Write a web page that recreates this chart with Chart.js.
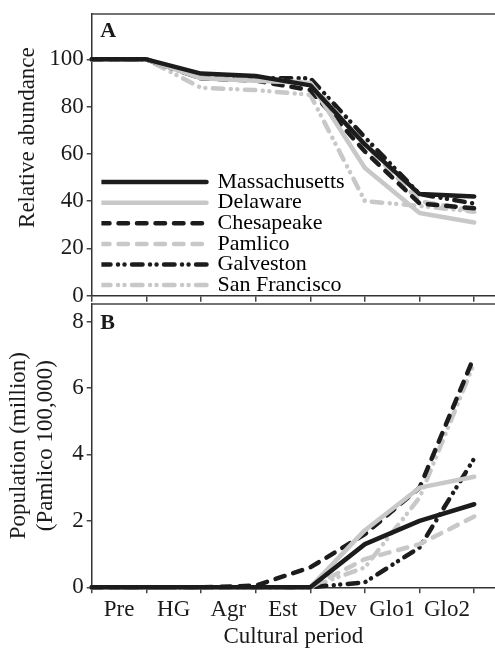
<!DOCTYPE html>
<html>
<head>
<meta charset="utf-8">
<script src="https://cdn.jsdelivr.net/npm/chart.js@4.4.1/dist/chart.umd.min.js"></script>
<style>
    html, body { margin: 0; padding: 0; background: #fff; overflow: hidden; }
    .panel { position: relative; width: 495px; }
    #panelA { height: 312px; }
    #panelB { height: 351px; margin-top: -12px; }
</style>
</head>
<body>
<div class="panel" id="panelA"><canvas id="chartA"></canvas></div>
<div class="panel" id="panelB"><canvas id="chartB"></canvas></div>
<script>
// Cultural periods (labels sit between the tick marks)
const periods = ['Pre', 'HG', 'Agr', 'Est', 'Dev', 'Glo1', 'Glo2'];
// Sample positions along the x axis (tick marks)
const xSteps = [0, 1, 2, 3, 4, 5, 6, 7];

const sites = ['Massachusetts', 'Delaware', 'Chesapeake', 'Pamlico', 'Galveston', 'San Francisco'];

// Panel A: relative abundance
const abundMassachusetts = [100, 100, 94, 93, 89, 64, 43, 42];
const abundDelaware      = [100, 100, 92, 91, 90, 54, 35, 31];
const abundChesapeake    = [100, 100, 92, 91, 87, 61, 39, 37];
const abundPamlico       = [100, 100, 92, 92, 90, 64, 40, 36];
const abundGalveston     = [100, 100, 92, 92, 92, 67, 43, 39];
const abundSanFrancisco  = [100, 100, 88, 87, 85, 40, 38, 35.5];

// Panel B: population (million; Pamlico in 100,000)
const popMassachusetts = [0, 0, 0, 0, 0, 1.3, 2.0, 2.5];
const popDelaware      = [0, 0, 0, 0, 0, 1.72, 3.0, 3.33];
const popChesapeake    = [0, 0, 0, 0.05, 0.6, 1.6, 3.0, 6.95];
const popPamlico       = [0, 0, 0, 0, 0, 0.85, 1.3, 2.13];
const popGalveston     = [0, 0, 0, 0, 0, 0.15, 1.2, 3.88];
const popSanFrancisco  = [0, 0, 0, 0, 0, 0.6, 2.7, 6.75];

const abundanceTicks = [0, 20, 40, 60, 80, 100];
const populationTicks = [0, 2, 4, 6, 8];

const BLACK = '#1c1c1c';
const GREY = '#c8c8c8';
const DOT = 0.01;
const lineStyles = [
    { color: BLACK, dash: [] },
    { color: GREY, dash: [] },
    { color: BLACK, dash: [9.5, 9] },
    { color: GREY, dash: [9.5, 9] },
    { color: BLACK, dash: [10.5, 7.5, DOT, 6.5, DOT, 7.5] },
    { color: GREY, dash: [10.5, 7.5, DOT, 6.5, DOT, 7.5] }
];

Chart.defaults.font.family = '"Liberation Serif", "Times New Roman", serif';
Chart.defaults.font.size = 23;
Chart.defaults.color = '#1a1a1a';

function makeDatasets(seriesList) {
    return seriesList.map((values, i) => ({
        label: sites[i],
        data: values.map((v, j) => ({ x: xSteps[j], y: v })),
        borderColor: lineStyles[i].color,
        backgroundColor: lineStyles[i].color,
        borderWidth: 4.5,
        borderDash: lineStyles[i].dash,
        borderCapStyle: 'round',
        borderJoinStyle: 'round',
        pointRadius: 0,
        tension: 0,
        fill: false,
        clip: false
    }));
}

/**
 * Panel letter and top frame line
 */
const panelFrame = {
    id: 'panelFrame',
    afterDraw(chart, args, opts) {
        const { ctx, chartArea } = chart;
        ctx.save();
        ctx.strokeStyle = '#444';
        ctx.lineWidth = 1.5;
        ctx.beginPath();
        ctx.moveTo(chartArea.left, chartArea.top);
        ctx.lineTo(chartArea.right, chartArea.top);
        ctx.stroke();
        ctx.font = 'bold 22px "Liberation Serif", serif';
        ctx.fillStyle = '#1a1a1a';
        ctx.textBaseline = 'alphabetic';
        ctx.fillText(opts.text, chartArea.left + 8.5, chartArea.top + opts.baseline);
        ctx.restore();
    }
};

/**
 * Nudge the in-area legend to where the original sits
 */
const legendShift = {
    id: 'legendShift',
    afterLayout(chart) {
        if (chart.legend) {
            chart.legend.left += 9.7;
            chart.legend.bottom += 13;
        }
    }
};

function xScale(showLabels, fitHeight) {
    return {
        type: 'linear',
        min: 0,
        max: 7.38,
        afterBuildTicks: s => {
            const t = [];
            xSteps.forEach((v, i) => {
                t.push({ value: v });
                if (showLabels && i < periods.length) t.push({ value: v + 0.5 });
            });
            s.ticks = t;
        },
        ticks: {
            display: showLabels,
            autoSkip: false,
            maxRotation: 0,
            minRotation: 0,
            padding: 3,
            callback: v => Number.isInteger(v) ? '' : periods[Math.floor(v)]
        },
        grid: {
            drawOnChartArea: false,
            tickLength: 6,
            lineWidth: 1.5,
            color: c => (c.tick && !Number.isInteger(c.tick.value)) ? 'rgba(0,0,0,0)' : '#444'
        },
        border: { display: true, color: '#333', width: 1.5 },
        title: {
            display: showLabels,
            text: 'Cultural period',
            padding: { top: 0, bottom: 0 }
        },
        afterFit: s => {
            s.height = fitHeight;
            s.paddingLeft = 0;
            s.paddingRight = 0;
        }
    };
}

function yScale(max, tickValues, title, titleShift) {
    return {
        type: 'linear',
        min: 0,
        max: max,
        afterBuildTicks: s => { s.ticks = tickValues.map(v => ({ value: v })); },
        ticks: { padding: 3 },
        grid: { drawOnChartArea: false, tickLength: 5, lineWidth: 1.5, color: '#444' },
        border: { display: true, color: '#333', width: 1.5 },
        title: { display: true, text: title, padding: { top: titleShift, bottom: 0 } },
        afterFit: s => {
            s.width = 91.7;
            s.paddingTop = 0;
            s.paddingBottom = 0;
        }
    };
}

new Chart(document.getElementById('chartA'), {
    type: 'line',
    data: {
        datasets: makeDatasets([abundMassachusetts, abundDelaware, abundChesapeake,
            abundPamlico, abundGalveston, abundSanFrancisco])
    },
    options: {
        responsive: true,
        maintainAspectRatio: false,
        animation: false,
        layout: { padding: { top: 14, left: 0, right: 0, bottom: 12 } },
        scales: {
            x: xScale(false, 4.3),
            y: yScale(119.2, abundanceTicks, '      Relative abundance', 14)
        },
        plugins: {
            legend: {
                position: 'chartArea',
                align: 'end',
                labels: {
                    usePointStyle: true,
                    pointStyleWidth: 106.5,
                    padding: -1.4,
                    font: { size: 22 },
                    generateLabels: chart => chart.data.datasets.map((ds, i) => ({
                        text: ds.label,
                        datasetIndex: i,
                        strokeStyle: ds.borderColor,
                        fillStyle: ds.borderColor,
                        lineWidth: ds.borderWidth,
                        lineDash: ds.borderDash,
                        lineCap: 'round',
                        pointStyle: 'line',
                        hidden: false
                    }))
                }
            },
            tooltip: { enabled: false },
            panelFrame: { text: 'A', baseline: 23 }
        }
    },
    plugins: [panelFrame, legendShift]
});

new Chart(document.getElementById('chartB'), {
    type: 'line',
    data: {
        datasets: makeDatasets([popMassachusetts, popDelaware, popChesapeake,
            popPamlico, popGalveston, popSanFrancisco])
    },
    options: {
        responsive: true,
        maintainAspectRatio: false,
        animation: false,
        layout: { padding: { top: 4, left: 0, right: 0, bottom: 0 } },
        scales: {
            x: xScale(true, 63.7),
            y: yScale(8.53, populationTicks, ['Population (million)', '(Pamlico 100,000)'], 5)
        },
        plugins: {
            legend: { display: false },
            tooltip: { enabled: false },
            panelFrame: { text: 'B', baseline: 25 }
        }
    },
    plugins: [panelFrame]
});
</script>
</body>
</html>
